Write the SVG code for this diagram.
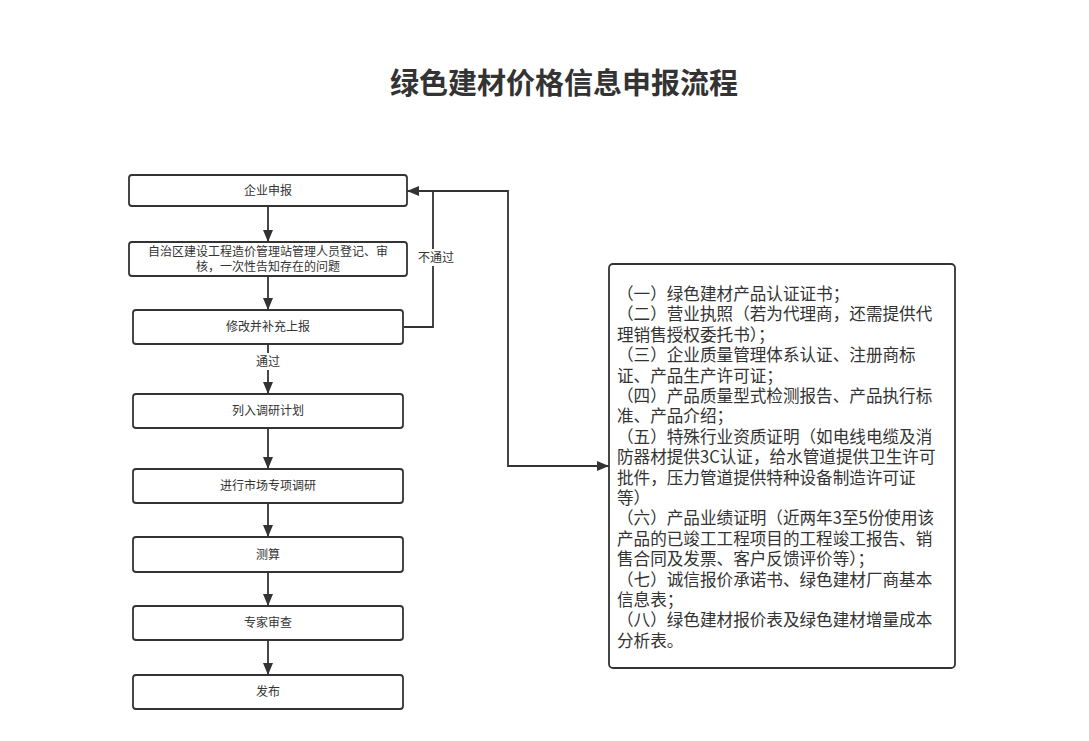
<svg xmlns="http://www.w3.org/2000/svg" width="1089" height="741" viewBox="0 0 1089 741">
<style>
.node{fill:#fff;stroke:#333;stroke-width:1.8}
.t{font-family:"Noto Sans CJK SC","Noto Sans",sans-serif;font-size:12px;fill:#333;text-anchor:middle}
.lbl{font-family:"Noto Sans CJK SC","Noto Sans",sans-serif;font-size:12px;fill:#333;text-anchor:middle}
.c{fill:none;stroke:#333;stroke-width:1.8}
.bt{font-family:"Noto Sans CJK SC","Noto Sans",sans-serif;font-size:16.6px;fill:#333}
.title{font-family:"Noto Sans CJK SC","Noto Sans",sans-serif;font-size:29px;font-weight:bold;fill:#333;text-anchor:middle}
</style>
<defs>
<marker id="ah" markerUnits="userSpaceOnUse" markerWidth="12" markerHeight="12" viewBox="0 0 12 12" refX="12" refY="6" orient="auto">
<path d="M0,1 L12,6 L0,11 Z" fill="#333"/>
</marker>
</defs>
<rect width="1089" height="741" fill="#fff"/>
<text class="title" x="564" y="94">绿色建材价格信息申报流程</text>

<g id="connectors">
<path class="c" d="M268,206 V242" marker-end="url(#ah)"/>
<path class="c" d="M268,276 V310" marker-end="url(#ah)"/>
<path class="c" d="M268,344 V394" marker-end="url(#ah)"/>
<path class="c" d="M268,428 V469" marker-end="url(#ah)"/>
<path class="c" d="M268,503 V537" marker-end="url(#ah)"/>
<path class="c" d="M268,572 V606" marker-end="url(#ah)"/>
<path class="c" d="M268,640 V675" marker-end="url(#ah)"/>
<path class="c" d="M404,327 H433 V191 H407" marker-end="url(#ah)"/>
<path class="c" d="M433,191 H508 V466 H609" marker-end="url(#ah)"/>
<rect x="416" y="249" width="40" height="17" fill="#fff"/>
<text class="lbl" x="436" y="262">不通过</text>
<rect x="254" y="353" width="28" height="17" fill="#fff"/>
<text class="lbl" x="268" y="366">通过</text>
</g>

<g id="n1"><rect class="node" x="129" y="175" width="278" height="31" rx="3"/><text class="t" x="268" y="195">企业申报</text></g>
<g id="n2"><rect class="node" x="129" y="242" width="278" height="34" rx="3"/><text class="t" x="268" y="256">自治区建设工程造价管理站管理人员登记、审</text><text class="t" x="268" y="271">核，一次性告知存在的问题</text></g>
<g id="n3"><rect class="node" x="133" y="310" width="270" height="34" rx="3"/><text class="t" x="268" y="331">修改并补充上报</text></g>
<g id="n4"><rect class="node" x="133" y="394" width="270" height="34" rx="3"/><text class="t" x="268" y="415">列入调研计划</text></g>
<g id="n5"><rect class="node" x="133" y="469" width="270" height="34" rx="3"/><text class="t" x="268" y="490">进行市场专项调研</text></g>
<g id="n6"><rect class="node" x="133" y="537" width="270" height="35" rx="3"/><text class="t" x="268" y="559">测算</text></g>
<g id="n7"><rect class="node" x="133" y="606" width="270" height="34" rx="3"/><text class="t" x="268" y="627">专家审查</text></g>
<g id="n8"><rect class="node" x="133" y="675" width="270" height="34" rx="3"/><text class="t" x="268" y="696">发布</text></g>

<g id="n9">
<rect class="node" x="609" y="264" width="346" height="404" rx="4"/>
<text class="bt">
<tspan x="617" y="300">（一）绿色建材产品认证证书；</tspan>
<tspan x="617" y="320.4">（二）营业执照（若为代理商，还需提供代</tspan>
<tspan x="617" y="340.8">理销售授权委托书）；</tspan>
<tspan x="617" y="361.2">（三）企业质量管理体系认证、注册商标</tspan>
<tspan x="617" y="381.6">证、产品生产许可证；</tspan>
<tspan x="617" y="402">（四）产品质量型式检测报告、产品执行标</tspan>
<tspan x="617" y="422.4">准、产品介绍；</tspan>
<tspan x="617" y="442.8">（五）特殊行业资质证明（如电线电缆及消</tspan>
<tspan x="617" y="463.2">防器材提供3C认证，给水管道提供卫生许可</tspan>
<tspan x="617" y="483.6">批件，压力管道提供特种设备制造许可证</tspan>
<tspan x="617" y="504">等）</tspan>
<tspan x="617" y="524.4">（六）产品业绩证明（近两年3至5份使用该</tspan>
<tspan x="617" y="544.8">产品的已竣工工程项目的工程竣工报告、销</tspan>
<tspan x="617" y="565.2">售合同及发票、客户反馈评价等）；</tspan>
<tspan x="617" y="585.6">（七）诚信报价承诺书、绿色建材厂商基本</tspan>
<tspan x="617" y="606">信息表；</tspan>
<tspan x="617" y="626.4">（八）绿色建材报价表及绿色建材增量成本</tspan>
<tspan x="617" y="646.8">分析表。</tspan>
</text>
</g>
</svg>
